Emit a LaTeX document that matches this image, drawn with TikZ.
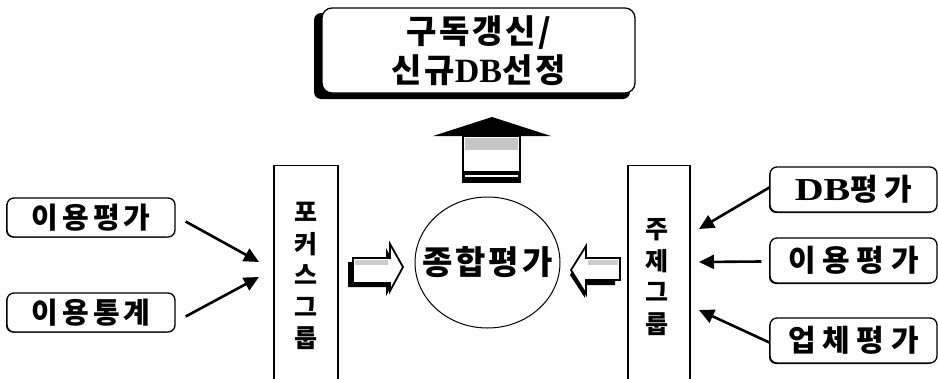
\documentclass[tikz,border=0pt]{standalone}
\usepackage{fontspec}
\setmainfont{Liberation Serif}
\newfontfamily\kr{Noto Sans CJK KR}[LetterSpace=14]
\newfontfamily\krr{Noto Sans CJK KR}[LetterSpace=22]
\newfontfamily\krt{Noto Sans CJK KR}[LetterSpace=8]
\newfontfamily\krv{Noto Sans CJK KR}
\usetikzlibrary{arrows.meta,shapes.geometric}
\begin{document}
\begin{tikzpicture}[x=1pt,y=-1pt,
  lbl/.style={draw, line width=1.3pt, rounded corners=7pt, fill=white, inner sep=0pt,
    font=\kr\bfseries\fontsize{29}{30}\selectfont},
  rlbl/.style={lbl, font=\krr\bfseries\fontsize{30}{31}\selectfont},
  shadowbox/.style={fill=black, rounded corners=7pt},
  tallbox/.style={draw, line width=1.2pt, fill=white},
  vtext/.style={align=center, inner sep=0pt, font=\krv\bfseries\fontsize{25}{31.5}\selectfont},
  conn/.style={line width=2.6pt, -{Triangle[length=15pt,width=14pt]}, shorten >=0pt},
  blockarrow/.style={fill=white, draw, line width=1.8pt, line join=miter}
]
\clip (0,0) rectangle (938,378);
\fill[white] (0,0) rectangle (938,378);

% top box
\fill[shadowbox] (314,13) rectangle (630,99);
\node[lbl, minimum width=313pt, minimum height=85pt, align=center,
  font=\krt\bfseries\fontsize{33}{39}\selectfont, rounded corners=10pt] (top) at (478.5,50.5)
  {구독갱신/\\신규{\rmfamily\bfseries\fontsize{34}{34}\selectfont DB}선정};

% up arrow
\fill (433,136) -- (492,117) -- (551,136) -- cycle;
\draw[line width=2.5pt, fill=white] (463,136) rectangle (520,182);
\fill[gray!45] (465,138) rectangle (518,150);
\fill (463,171) rectangle (520,183);
\draw[white, line width=1.2pt] (465,176) -- (518,176);
\coordinate (upbase) at (492,182);

% left boxes
\fill[shadowbox] (6,199.5) rectangle (173,237.5);
\node[lbl, minimum width=168pt, minimum height=39pt] (b1) at (91,217.5) {이용평가};
\fill[shadowbox] (6,294.5) rectangle (173,332.5);
\node[lbl, minimum width=168pt, minimum height=39pt] (b2) at (91,312.5) {이용통계};

% focus group tall box
\node[tallbox, anchor=north, minimum width=64pt, minimum height=240pt] (focus) at (306,165) {};
\node[vtext] (focust) at (306,276) {포\\커\\스\\그\\룹};

% topic group tall box
\node[tallbox, anchor=north, minimum width=62pt, minimum height=240pt] (topic) at (659,165) {};
\node[vtext] (topict) at (657,277) {주\\제\\그\\룹};

% right boxes
\fill[shadowbox] (769,169) rectangle (935,213);
\node[rlbl, minimum width=167pt, minimum height=45pt] (r1) at (853.5,189.5)
  {{\rmfamily\bfseries\fontsize{32}{32}\selectfont\scalebox{1.25}[1]{DB}}평가};
\fill[shadowbox] (769,240) rectangle (935,284);
\node[rlbl, minimum width=167pt, minimum height=45pt] (r2) at (853.5,260.5) {이용평가};
\fill[shadowbox] (769,320) rectangle (935,364);
\node[rlbl, minimum width=167pt, minimum height=45pt] (r3) at (853.5,340.5) {업체평가};

% circle
\node[draw, line width=1pt, ellipse, minimum width=145pt, minimum height=131pt, inner sep=0pt] (sum) at (487.5,262.5) {};
\node[inner sep=0pt, font=\krv\bfseries\fontsize{33}{34}\selectfont] (sumt) at (sum.center)
  {종\kern3pt 합\kern3pt 평\kern3pt 가};

% connector targets
\coordinate (f1) at (259,262);
\coordinate (f2) at (259,277);
\coordinate (t1) at (699,229);
\coordinate (t2) at (699,262);
\coordinate (t3) at (699,310);

\draw[conn] (b1.east) ++(10,4) coordinate (s1) -- (f1);
\draw[conn] (b2.east) ++(10,4) coordinate (s2) -- (f2);
\draw[conn] (r1.west) ++(0,-2) coordinate (s3) -- (t1);
\draw[conn] (r2.west) ++(-8,1) coordinate (s4) -- (t2);
\draw[conn] (r3.west) ++(0,2) coordinate (s5) -- (t3);

% right-pointing block arrow
\fill (348,262) -- (386,262) -- (386,248) -- (399,272) -- (386,296) -- (386,287) -- (348,287) -- cycle;
\draw[blockarrow] (353,258) -- (390,258) -- (390,244) -- (403,267) -- (390,291) -- (390,283) -- (353,283) -- cycle;
\fill[gray!40] (355,260) rectangle (388,265);

% left-pointing block arrow
\fill (570,275) -- (585,250) -- (585,263) -- (615,263) -- (615,285) -- (585,285) -- (585,298) -- cycle;
\draw[blockarrow] (571,270) -- (586,246) -- (586,258) -- (620,258) -- (620,280) -- (586,280) -- (586,294) -- cycle;
\fill[gray!40] (588,260) rectangle (618,265);
\end{tikzpicture}
\end{document}
